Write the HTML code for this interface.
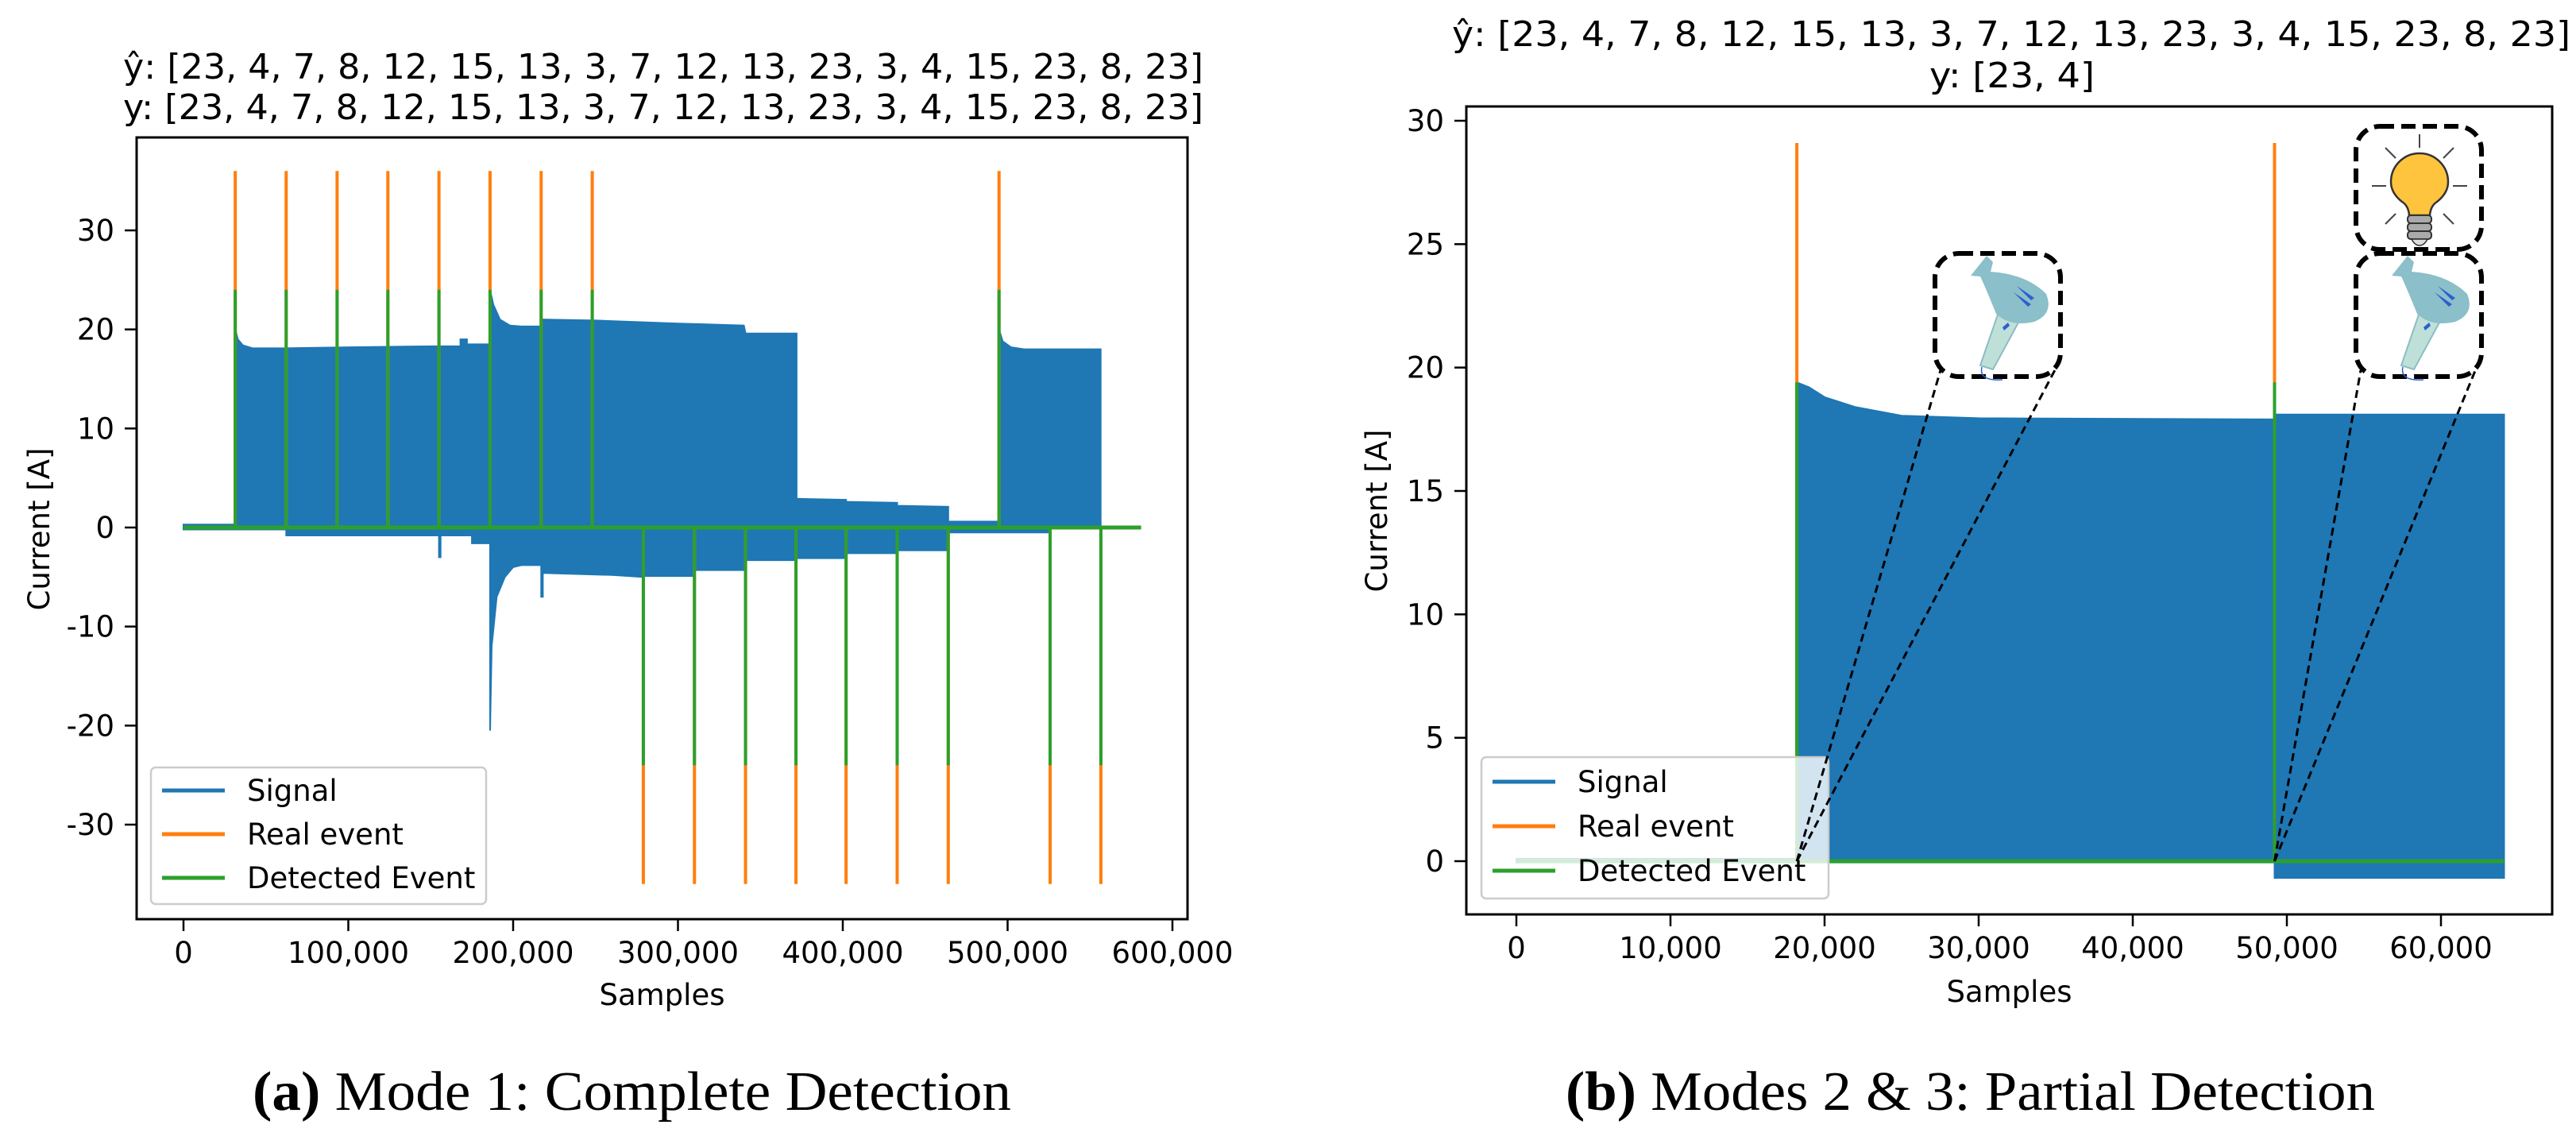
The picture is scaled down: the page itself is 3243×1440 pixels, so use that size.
<!DOCTYPE html>
<html><head><meta charset="utf-8"><style>
html,body{margin:0;padding:0;background:#fff;}
svg{display:block;}
text{font-family:"DejaVu Sans","Liberation Sans",sans-serif;fill:#000;}
.cap{font-family:"Liberation Serif",serif;}
</style></head><body>
<svg id="fig" width="3243" height="1440" viewBox="0 0 3243 1440" xmlns="http://www.w3.org/2000/svg">
<defs>
<clipPath id="clipL"><rect x="172" y="173" width="1323" height="984"/></clipPath>
<clipPath id="clipR"><rect x="1846" y="134" width="1367" height="1017"/></clipPath>
</defs>
<g id="chartL"></g>
<g id="chartR"></g>
<text class="cap" x="318" y="1397" font-size="70" textLength="955" lengthAdjust="spacingAndGlyphs"><tspan font-weight="bold">(a)</tspan> Mode 1: Complete Detection</text>
<text class="cap" x="1971" y="1397" font-size="70" textLength="1019" lengthAdjust="spacingAndGlyphs"><tspan font-weight="bold">(b)</tspan> Modes 2 &amp; 3: Partial Detection</text>
</svg>
<script>
// ---- Left chart data (samples in thousands) ----
const leftXTicks=[0,100,200,300,400,500,600];
const leftXTickLabels=["0","100,000","200,000","300,000","400,000","500,000","600,000"];
const leftYTicks=[30,20,10,0,-10,-20,-30];
const leftYTickLabels=["30","20","10","0","-10","-20","-30"];
const leftUpX=[0,31.4,31.4,33,36,42,62,100,150,168,168,172,172,186,186,188,192,198,205,217,217,250,300,340,341,372,372,402,402,433,433,464,464,494.8,494.8,497,502,510,556.5,556.5];
const leftUpY=[0.3,0.3,20,19,18.4,18.1,18.1,18.2,18.3,18.3,19,19,18.5,18.5,24,22.5,21,20.4,20.3,20.3,21,20.9,20.6,20.4,19.6,19.6,2.9,2.8,2.6,2.5,2.2,2.1,0.6,0.6,20,18.8,18.2,18,18,0];
const leftLoX=[0,62.3,62.3,150,155,155,156,156,175,175,186,186,187,190,195,200,205,217,217,218,218,260,279,279,310,310,341,341,372,372,402,402,433,433,464,464,525.7,525.7,556.5];
const leftLoY=[-0.2,-0.2,-0.8,-0.8,-0.8,-3,-3,-0.8,-0.8,-1.6,-1.6,-20.5,-12,-7,-5,-4,-3.8,-3.8,-7,-7,-4.6,-4.8,-5,-4.9,-4.9,-4.3,-4.3,-3.3,-3.3,-3.1,-3.1,-2.6,-2.6,-2.3,-2.3,-0.5,-0.5,-0.1,-0.1];
const leftOnEvents=[31.4,62.3,93.2,124,155,186,217,248,494.8];
const leftOffEvents=[279,310,341,371.6,402,433,464,525.8,556.6];
const leftRealHeight=[36];
const leftDetHeight=[24];
const leftBaseEnd=[581];
// ---- Right chart data ----
const rightXTicks=[0,10,20,30,40,50,60];
const rightXTickLabels=["0","10,000","20,000","30,000","40,000","50,000","60,000"];
const rightYTicks=[30,25,20,15,10,5,0];
const rightYTickLabels=["30","25","20","15","10","5","0"];
const rightUpX=[0,18.2,18.2,19,20,22,25,30,49.2,49.2,64.1];
const rightUpY=[0.1,0.1,19.4,19.2,18.8,18.4,18.05,17.95,17.9,18.1,18.1];
const rightLoX=[0,49.2,49.2,64.1];
const rightLoY=[-0.05,-0.05,-0.68,-0.68];
const rightEvents=[18.2,49.2];
const rightRealHeight=[29.1];
const rightDetHeight=[19.4];
const rightBaseEnd=[64.1];

const NS="http://www.w3.org/2000/svg";
function mk(parent,tag,attrs,txt){const e=document.createElementNS(NS,tag);for(const k in attrs)e.setAttribute(k,attrs[k]);if(txt!==undefined)e.textContent=txt;parent.appendChild(e);return e;}
function lin(d0,d1,r0,r1){return v=>r0+(v-d0)*(r1-r0)/(d1-d0);}

function drawChart(g,cfg){
  const {box,xs,ys,clip}=cfg;
  const plot=mk(g,'g',{'clip-path':'url(#'+clip+')'});
  
  
  let d='M'+cfg.upX.map((x,i)=>xs(x).toFixed(1)+','+ys(cfg.upY[i]).toFixed(1)).join(' L');
  for(let i=cfg.loX.length-1;i>=0;i--) d+=' L'+xs(cfg.loX[i]).toFixed(1)+','+ys(cfg.loY[i]).toFixed(1);
  d+=' Z';
  const sig=mk(plot,'path',{d:d,fill:'#1f77b4',stroke:'#1f77b4','stroke-width':2});
  
  
  cfg.on.forEach(v=>{const l=mk(plot,'line',{x1:xs(v),x2:xs(v),y1:ys(cfg.real),y2:ys(0),stroke:'#ff7f0e','stroke-width':4});
    
    });
  cfg.off.forEach(v=>{const l=mk(plot,'line',{x1:xs(v),x2:xs(v),y1:ys(-cfg.real),y2:ys(0),stroke:'#ff7f0e','stroke-width':4});
    
    });
  const bl=mk(plot,'line',{x1:xs(0),x2:xs(cfg.baseEnd),y1:ys(0),y2:ys(0),stroke:'#2ca02c','stroke-width':5});
  
  
  cfg.on.forEach(v=>{const l=mk(plot,'line',{x1:xs(v),x2:xs(v),y1:ys(cfg.det),y2:ys(0),stroke:'#2ca02c','stroke-width':4});
    
    });
  cfg.off.forEach(v=>{const l=mk(plot,'line',{x1:xs(v),x2:xs(v),y1:ys(-cfg.det),y2:ys(0),stroke:'#2ca02c','stroke-width':4});
    
    });
  const fr=mk(g,'rect',{x:box.x,y:box.y,width:box.w,height:box.h,fill:'none',stroke:'#000','stroke-width':3});
  
  
  cfg.xt.forEach((v,i)=>{const x=xs(v);
    mk(g,'line',{x1:x,x2:x,y1:box.y+box.h,y2:box.y+box.h+15,stroke:'#000','stroke-width':2.5});
    const t=mk(g,'text',{x:x,y:box.y+box.h+55,'font-size':37,'text-anchor':'middle'},cfg.xl[i]);
    
    });
  cfg.yt.forEach((v,i)=>{const y=ys(v);
    mk(g,'line',{x1:box.x-15,x2:box.x,y1:y,y2:y,stroke:'#000','stroke-width':2.5});
    const t=mk(g,'text',{x:box.x-28,y:y+13,'font-size':37,'text-anchor':'end'},cfg.yl[i]);
    
    });
  const xt=mk(g,'text',{x:box.x+box.w/2,y:cfg.xlabY,'font-size':37,'text-anchor':'middle'},'Samples');
  
  
  const yt=mk(g,'text',{x:0,y:0,'font-size':37,'text-anchor':'middle',transform:'translate('+cfg.ylab[0]+','+cfg.ylab[1]+') rotate(-90)'},'Current [A]');
  
  
  cfg.titles.forEach(tt=>{const t=mk(g,'text',{x:tt[1],y:tt[2],'font-size':44,textLength:tt[3],lengthAdjust:'spacingAndGlyphs'},tt[0]);
    
    });
}
function legend(g,L){
  const r=mk(g,'rect',{x:L.x,y:L.y,width:L.w,height:L.h,rx:6,fill:'#fff','fill-opacity':0.8,stroke:'#ccc','stroke-width':2.5});
  
  
  const items=[['Signal','#1f77b4'],['Real event','#ff7f0e'],['Detected Event','#2ca02c']];
  items.forEach((it,i)=>{const y=L.y+L.first+i*L.step;
    const ln=mk(g,'line',{x1:L.x+14,x2:L.x+93,y1:y,y2:y,stroke:it[1],'stroke-width':5});
    
    
    const t=mk(g,'text',{x:L.x+121,y:y+13,'font-size':37},it[0]);
    
    });
}
const gL=document.getElementById('chartL');
const boxL={x:172,y:173,w:1323,h:984};
drawChart(gL,{box:boxL,clip:'clipL',xs:lin(0,600,231,1476),ys:lin(0,30,664,290),
  upX:leftUpX,upY:leftUpY,loX:leftLoX,loY:leftLoY,on:leftOnEvents,off:leftOffEvents,
  real:leftRealHeight[0],det:leftDetHeight[0],baseEnd:leftBaseEnd[0],
  xt:leftXTicks,xl:leftXTickLabels,yt:leftYTicks,yl:leftYTickLabels,xlabY:1265,ylab:[62,666],
  titles:[['ŷ: [23, 4, 7, 8, 12, 15, 13, 3, 7, 12, 13, 23, 3, 4, 15, 23, 8, 23]',155,99,1360],['y: [23, 4, 7, 8, 12, 15, 13, 3, 7, 12, 13, 23, 3, 4, 15, 23, 8, 23]',155,150,1360]]});
legend(gL,{x:190,y:966,w:422,h:172,first:29,step:55});

const gR=document.getElementById('chartR');
const boxR={x:1846,y:134,w:1367,h:1017};
drawChart(gR,{box:boxR,clip:'clipR',xs:lin(0,60,1909,3073),ys:lin(0,30,1084,152),
  upX:rightUpX,upY:rightUpY,loX:rightLoX,loY:rightLoY,on:rightEvents,off:[],
  real:rightRealHeight[0],det:rightDetHeight[0],baseEnd:rightBaseEnd[0],
  xt:rightXTicks,xl:rightXTickLabels,yt:rightYTicks,yl:rightYTickLabels,xlabY:1261,ylab:[1746,643],
  titles:[['ŷ: [23, 4, 7, 8, 12, 15, 13, 3, 7, 12, 13, 23, 3, 4, 15, 23, 8, 23]',1828,58,1408],['y: [23, 4]',2429,110,208]]});
legend(gR,{x:1865,y:953,w:437,h:178,first:31,step:56});

const ann=mk(gR,'g',{});


const xsR=lin(0,60,1909,3073), ysR=lin(0,30,1084,152);
function dbox(x,y,name){const r=mk(ann,'rect',{x:x,y:y,width:158,height:155,rx:30,fill:'#fff',stroke:'#000','stroke-width':6,'stroke-dasharray':'18 9'});
  
  }
function dline(x1,y1,x2,y2){mk(ann,'line',{x1:x1,y1:y1,x2:x2,y2:y2,stroke:'#000','stroke-width':3,'stroke-dasharray':'10 6'});}
const e0=xsR(rightEvents[0]), e1=xsR(rightEvents[1]), y0=ysR(0);
dline(e0,y0,2443,466);dline(e0,y0,2589,462);
dline(e1,y0,2972,466);dline(e1,y0,3118,462);
function dryer(x,y){const g=mk(ann,'g',{transform:'translate('+x+','+y+')'});
  
  
  mk(g,'path',{d:'M64,76 L90,86 L58,145 L42,140 Z',fill:'#bfe0d8',stroke:'#8bbdc4','stroke-width':2});
  mk(g,'path',{d:'M50,2 L58,10 L55,22 Q100,25 125,50 Q135,75 110,85 Q80,92 62,75 Q50,45 42,28 L30,27 Z',fill:'#8bbfc9'});
  mk(g,'path',{d:'M88,40 L110,55 L106,58 Z M84,48 L106,63 L102,66 Z',fill:'#2d5fcf'});
  mk(g,'path',{d:'M70,92 L77,86 L79,90 L72,96 Z',fill:'#2d5fcf'});
  mk(g,'path',{d:'M44,142 Q40,160 70,158',fill:'none',stroke:'#2d5fcf','stroke-width':1.5});}
dbox(2436,319,'hair-dryer-box-1');dryer(2451,320);
dbox(2966,319,'hair-dryer-box-2');dryer(2981,320);
dbox(2966,159,'light-bulb-box');
const b=mk(ann,'g',{transform:'translate(2966,159)'});


[[80,10,80,27],[37,27,50,40],[123,27,110,40],[20,75,38,75],[140,75,122,75],[37,123,50,110],[123,123,110,110]].forEach(s=>mk(b,'line',{x1:s[0],y1:s[1],x2:s[2],y2:s[3],stroke:'#444','stroke-width':2}));
mk(b,'path',{d:'M67,112 Q66,100 58,95 Q44,84 44,70 A36,36 0 1 1 116,70 Q116,84 102,95 Q94,100 93,112 Z',fill:'#ffc43d',stroke:'#333','stroke-width':2.5});
mk(b,'rect',{x:65,y:112,width:30,height:10,rx:4,fill:'#aaa',stroke:'#333','stroke-width':2});
mk(b,'rect',{x:65,y:122,width:30,height:10,rx:4,fill:'#aaa',stroke:'#333','stroke-width':2});
mk(b,'rect',{x:65,y:132,width:30,height:10,rx:4,fill:'#aaa',stroke:'#333','stroke-width':2});
mk(b,'path',{d:'M70,142 L90,142 Q86,150 80,150 Q74,150 70,142 Z',fill:'#ddd',stroke:'#333','stroke-width':1.5});
</script>
</body></html>
